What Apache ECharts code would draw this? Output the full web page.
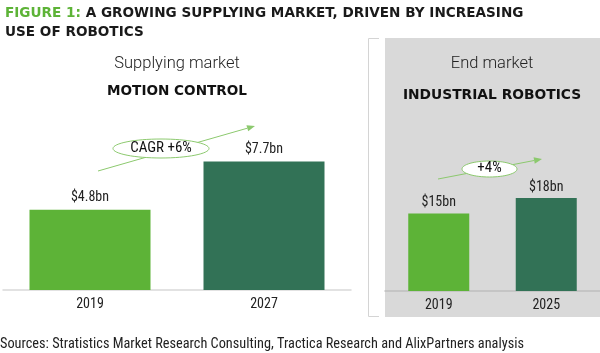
<!DOCTYPE html>
<html>
<head>
<meta charset="utf-8">
<script src="https://cdn.jsdelivr.net/npm/echarts@6/dist/echarts.min.js"></script>
<style>
html,body{margin:0;padding:0;background:#fff;}
#chart{width:600px;height:353px;}
</style>
</head>
<body>
<div id="chart"></div>
<script>
// ---- data ----
const leftCategories = ['2019', '2027'];
const leftValues = [4.8, 7.7];
const rightCategories = ['2019', '2025'];
const rightValues = [15, 18];
const leftGrowthLabel = 'CAGR +6%';
const rightGrowthLabel = '+4%';
const leftPanelTitle = 'Supplying market';
const leftPanelSubtitle = 'MOTION CONTROL';
const rightPanelTitle = 'End market';
const rightPanelSubtitle = 'INDUSTRIAL ROBOTICS';
const sourceText = 'Sources: Stratistics Market Research Consulting, Tractica Research and AlixPartners analysis';

const LIGHT = '#5db337';
const DARK = '#327256';
const ARROW = '#8cc96e';
const NARROW = '"Liberation Sans Narrow", "Roboto Condensed", Roboto, sans-serif';

const chart = echarts.init(document.getElementById('chart'), null, {renderer: 'canvas'});

function arrow(x1, y1, x2, y2) {
  const a = Math.atan2(y2 - y1, x2 - x1);
  const L = 8, W = 3.2;
  const bx = x2 - L * Math.cos(a), by = y2 - L * Math.sin(a);
  const px = -Math.sin(a) * W, py = Math.cos(a) * W;
  return [
    {type: 'line', z: 10, shape: {x1: x1, y1: y1, x2: bx, y2: by}, style: {stroke: ARROW, lineWidth: 1}},
    {type: 'polygon', z: 10, shape: {points: [[x2, y2], [bx + px, by + py], [bx - px, by - py]]}, style: {fill: ARROW}}
  ];
}

function fmt(p) { return '$' + p.value + 'bn'; }

const option = {
  animation: false,
  textStyle: {fontFamily: NARROW},
  title: {
    left: 0, top: -1,
    text: '{g|FIGURE 1:} A GROWING SUPPLYING MARKET, DRIVEN BY INCREASING\nUSE OF ROBOTICS',
    textStyle: {
      fontFamily: '"DejaVu Sans", sans-serif', fontSize: 13.6, fontWeight: 'bold', color: '#1a1a1a', lineHeight: 19,
      rich: {g: {fontFamily: '"DejaVu Sans", sans-serif', fontSize: 13.6, fontWeight: 'bold', color: '#5db337', lineHeight: 19}}
    }
  },
  grid: [
    {left: 3, width: 348, top: 123, height: 167},
    {left: 385, width: 215, top: 136, height: 155}
  ],
  xAxis: [
    {gridIndex: 0, type: 'category', data: leftCategories,
      axisLine: {lineStyle: {color: '#d9d9d9', width: 1.5}}, axisTick: {show: false},
      axisLabel: {color: '#222', fontSize: 14, margin: 7, fontFamily: NARROW}},
    {gridIndex: 1, type: 'category', data: rightCategories,
      axisLine: {lineStyle: {color: '#bfbfbf', width: 1.5}}, axisTick: {show: false},
      axisLabel: {color: '#222', fontSize: 14, margin: 7, fontFamily: NARROW}}
  ],
  yAxis: [
    {gridIndex: 0, type: 'value', min: 0, max: 10, show: false},
    {gridIndex: 1, type: 'value', min: 0, max: 30, show: false}
  ],
  series: [
    {type: 'bar', xAxisIndex: 0, yAxisIndex: 0, barWidth: 121,
      data: leftValues.map((v, i) => ({value: v, itemStyle: {color: i === 0 ? LIGHT : DARK}})),
      label: {show: true, position: 'top', distance: 5, formatter: fmt, color: '#222', fontSize: 14, fontFamily: NARROW}},
    {type: 'bar', xAxisIndex: 1, yAxisIndex: 1, barWidth: 61,
      data: rightValues.map((v, i) => ({value: v, itemStyle: {color: i === 0 ? LIGHT : DARK}})),
      label: {show: true, position: 'top', distance: 4, formatter: fmt, color: '#222', fontSize: 14, fontFamily: NARROW}}
  ],
  graphic: [
    {type: 'rect', z: -100, shape: {x: 385, y: 38, width: 215, height: 279}, style: {fill: '#d9d9d9'}},
    {type: 'polyline', z: -100, shape: {points: [[379, 38.5], [368.5, 38.5], [368.5, 316.5], [379, 316.5]]}, style: {stroke: '#d4d4d4', lineWidth: 1, fill: null}},
    {type: 'text', x: 177, y: 64, style: {text: leftPanelTitle, fontFamily: 'Roboto, sans-serif', fontSize: 16.5, fontWeight: 300, fill: '#222', align: 'center', verticalAlign: 'middle'}},
    {type: 'text', x: 177, y: 91, style: {text: leftPanelSubtitle, fontFamily: '"DejaVu Sans", sans-serif', fontSize: 13.6, fontWeight: 'bold', fill: '#111', align: 'center', verticalAlign: 'middle'}},
    {type: 'text', x: 492, y: 64, style: {text: rightPanelTitle, fontFamily: 'Roboto, sans-serif', fontSize: 16.5, fontWeight: 300, fill: '#222', align: 'center', verticalAlign: 'middle'}},
    {type: 'text', x: 492, y: 95, style: {text: rightPanelSubtitle, fontFamily: '"DejaVu Sans", sans-serif', fontSize: 13.8, fontWeight: 'bold', fill: '#111', align: 'center', verticalAlign: 'middle'}},
    ...arrow(98, 171, 255, 126),
    {type: 'ellipse', z: 11, shape: {cx: 161, cy: 148.5, rx: 48, ry: 9.5}, style: {fill: '#fff', stroke: ARROW, lineWidth: 1}},
    {type: 'text', z: 12, x: 161, y: 148, style: {text: leftGrowthLabel, fontFamily: NARROW, fontSize: 15, fill: '#111', align: 'center', verticalAlign: 'middle'}},
    ...arrow(438, 179, 542, 159),
    {type: 'ellipse', z: 11, shape: {cx: 489.5, cy: 169, rx: 27.5, ry: 8}, style: {fill: '#fff', stroke: ARROW, lineWidth: 1}},
    {type: 'text', z: 12, x: 489.5, y: 168.5, style: {text: rightGrowthLabel, fontFamily: NARROW, fontSize: 15, fill: '#111', align: 'center', verticalAlign: 'middle'}},
    {type: 'text', x: 0, y: 344, style: {text: sourceText, fontFamily: NARROW, fontSize: 14.3, fill: '#222', align: 'left', verticalAlign: 'middle'}}
  ]
};
chart.setOption(option);
</script>
</body>
</html>
